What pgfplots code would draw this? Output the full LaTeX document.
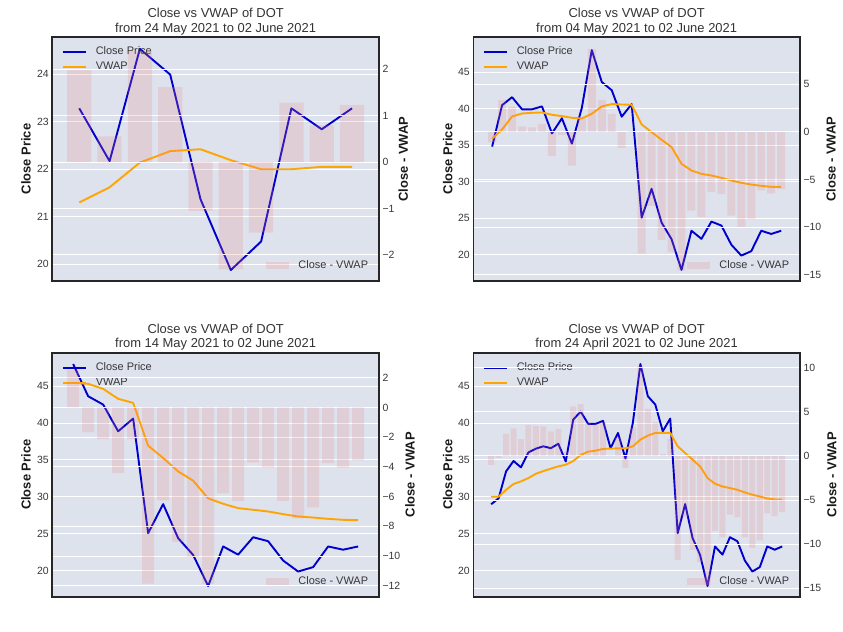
\documentclass[border=0pt]{standalone}
\usepackage{fontspec}
\setmainfont{Liberation Sans}
\usepackage{pgfplots}
\usepackage{pgfplotstable}
\pgfplotsset{compat=1.18}
\definecolor{bgc}{RGB}{221,226,237}
\definecolor{closec}{RGB}{0,0,205}
\definecolor{vwapc}{RGB}{255,165,0}
\definecolor{barc}{RGB}{240,128,128}
\definecolor{tickc}{RGB}{55,55,55}

% Panel 1: 24 May - 02 June 2021
\pgfplotstableread{
x close vwap diff
0 23.28 21.30 1.98
1 22.17 21.62 0.55
2 24.53 22.14 2.39
3 23.99 22.38 1.61
4 21.37 22.42 -1.05
5 19.88 22.19 -2.31
6 20.48 22.00 -1.52
7 23.28 22.00 1.28
8 22.84 22.05 0.79
9 23.28 22.05 1.23
}\pA

% Panel 2: 04 May - 02 June 2021
\pgfplotstableread{
x close vwap diff
0 34.80 35.86 -1.06
1 40.47 37.14 3.33
2 41.56 38.92 2.64
3 39.90 39.33 0.57
4 39.90 39.42 0.48
5 40.30 39.47 0.83
6 36.60 39.15 -2.55
7 38.67 38.97 -0.30
8 35.20 38.74 -3.54
9 40.10 38.65 1.45
10 48.00 39.29 8.71
11 43.64 40.29 3.35
12 42.51 40.62 1.89
13 38.89 40.56 -1.67
14 40.61 40.52 0.09
15 25.08 37.83 -12.75
16 29.02 36.78 -7.76
17 24.40 35.73 -11.33
18 22.13 34.73 -12.60
19 17.92 32.44 -14.52
20 23.28 31.52 -8.24
21 22.17 31.07 -8.90
22 24.53 30.84 -6.31
23 23.99 30.52 -6.53
24 21.37 30.15 -8.78
25 19.88 29.84 -9.96
26 20.48 29.60 -9.12
27 23.28 29.42 -6.14
28 22.84 29.29 -6.45
29 23.28 29.29 -6.01
}\pB

% Panel 3: 14 May - 02 June 2021
\pgfplotstableread{
x close vwap diff
0 48.00 45.46 2.54
1 43.64 45.32 -1.68
2 42.51 44.64 -2.13
3 38.89 43.29 -4.40
4 40.61 42.74 -2.13
5 25.08 36.94 -11.86
6 29.02 35.27 -6.25
7 24.40 33.45 -9.05
8 22.13 32.19 -10.06
9 17.92 29.80 -11.88
10 23.28 29.06 -5.78
11 22.17 28.47 -6.30
12 24.53 28.25 -3.72
13 23.99 28.02 -4.03
14 21.37 27.66 -6.29
15 19.88 27.34 -7.46
16 20.48 27.20 -6.72
17 23.28 27.02 -3.74
18 22.84 26.89 -4.05
19 23.28 26.84 -3.56
}\pC

% Panel 4: 24 April - 02 June 2021
\pgfplotstableread{
x close vwap diff
0 29.00 30.01 -1.01
1 29.80 30.01 -0.21
2 33.45 30.96 2.49
3 34.86 31.74 3.12
4 34.00 32.10 1.90
5 36.03 32.55 3.48
6 36.54 33.14 3.40
7 36.85 33.50 3.35
8 36.60 33.82 2.78
9 37.20 34.13 3.07
10 34.80 34.36 0.44
11 40.47 34.86 5.61
12 41.56 35.68 5.88
13 39.90 36.13 3.77
14 39.90 36.26 3.64
15 40.30 36.50 3.80
16 36.60 36.54 0.06
17 38.67 36.58 2.09
18 35.20 36.58 -1.38
19 40.10 36.85 3.25
20 48.00 37.76 10.24
21 43.64 38.30 5.34
22 42.51 38.67 3.84
23 38.89 38.67 0.22
24 40.61 38.67 1.94
25 25.08 36.85 -11.77
26 29.02 35.95 -6.93
27 24.40 35.04 -10.64
28 22.13 34.13 -12.00
29 17.92 32.55 -14.63
30 23.28 31.78 -8.50
31 22.17 31.41 -9.24
32 24.53 31.19 -6.66
33 23.99 30.96 -6.97
34 21.37 30.60 -9.23
35 19.88 30.29 -10.41
36 20.48 30.06 -9.58
37 23.28 29.78 -6.50
38 22.84 29.65 -6.81
39 23.28 29.65 -6.37
}\pD

\pgfplotsset{
  base/.style={
    scale only axis, width=326.7bp, height=244bp, anchor=south west,
    xtick=\empty, major tick length=0pt,
    ymajorgrids, major grid style={white, line width=1bp},
    axis line style={draw=black!85, line width=1.6bp},
    tick label style={font=\fontsize{10.5}{12}\selectfont, text=tickc},
    /pgf/number format/assume math mode=true,
  },
  leftax/.style={base,
    axis background/.style={fill=bgc},
    yticklabel pos=left,
    every axis y label/.style={at={(axis description cs:#1,0.5)}, rotate=90, anchor=center,
      font=\bfseries\fontsize{13}{15}\selectfont, text=black!90},
    every axis title/.style={at={(0.5,1)}, anchor=south, yshift=2bp, inner sep=0pt,
      align=center, font=\fontsize{13}{14.5}\selectfont, text=black!80},
    legend style={at={(0,1)}, anchor=north west, xshift=9.4bp, yshift=-9.75bp,
      draw=none, fill=none, inner sep=0pt, row sep=4.5bp, column sep=9bp,
      font=\fontsize{11}{13}\selectfont, text=tickc,
      nodes={inner sep=0pt, text height=8bp, text depth=2.5bp, anchor=base west}},
    legend cell align=left,
  },
  rightax/.style={base,
    yticklabel pos=right,
    every axis y label/.style={at={(axis description cs:#1,0.5)}, rotate=90, anchor=center,
      font=\bfseries\fontsize{13}{15}\selectfont, text=black!90},
    legend style={at={(1,0)}, anchor=south east, xshift=-10.7bp, yshift=10bp,
      draw=none, fill=none, inner sep=0pt, column sep=9bp,
      font=\fontsize{11}{13}\selectfont, text=tickc,
      nodes={inner sep=0pt, text height=8bp, text depth=2.5bp, anchor=base west}},
    legend cell align=left,
  },
  closeline/.style={color=closec, line width=1.9bp, line join=round,
    legend image code/.code={\draw[closec, line width=1.9bp] (0bp,3bp) -- (23bp,3bp);}},
  vwapline/.style={color=vwapc, line width=1.9bp, line join=round,
    legend image code/.code={\draw[vwapc, line width=1.9bp] (0bp,3bp) -- (23bp,3bp);}},
  barplot/.style={ybar, bar width=0.8, fill=barc, fill opacity=0.2, draw=none,
    legend image code/.code={\fill[barc, fill opacity=0.2] (0bp,-0.5bp) rectangle (23bp,6.5bp);}},
}

\begin{document}
\begin{tikzpicture}
\useasboundingbox (0,0) rectangle (843bp,632bp);

% ---------- Panel 1 (top left) ----------
\begin{axis}[leftax=-0.0805, at={(52.3bp,351bp)},
  xmin=-0.89, xmax=9.89, ymin=19.65, ymax=24.78,
  ytick={20,21,22,23,24}, yticklabels={20,21,22,23,24},
  ylabel={Close Price},
  title={Close vs VWAP of DOT\\from 24 May 2021 to 02 June 2021}]
\addplot[closeline] table[x=x, y=close]{\pA};
\addlegendentry{Close Price}
\addplot[vwapline] table[x=x, y=vwap]{\pA};
\addlegendentry{VWAP}
\end{axis}
\begin{axis}[rightax=1.0744, at={(52.3bp,351bp)},
  xmin=-0.89, xmax=9.89, ymin=-2.56, ymax=2.69,
  ytick={-2,-1,0,1,2}, yticklabels={−2,−1,0,1,2},
  ylabel={Close - VWAP}]
\addplot[barplot] table[x=x, y=diff]{\pA};
\addlegendentry{Close - VWAP}
\end{axis}

% ---------- Panel 2 (top right) ----------
\begin{axis}[leftax=-0.078, at={(473.3bp,351bp)},
  xmin=-1.89, xmax=30.89, ymin=16.4, ymax=49.8,
  ytick={20,25,30,35,40,45}, yticklabels={20,25,30,35,40,45},
  ylabel={Close Price},
  title={Close vs VWAP of DOT\\from 04 May 2021 to 02 June 2021}]
\addplot[closeline] table[x=x, y=close]{\pB};
\addlegendentry{Close Price}
\addplot[vwapline] table[x=x, y=vwap]{\pB};
\addlegendentry{VWAP}
\end{axis}
\begin{axis}[rightax=1.095, at={(473.3bp,351bp)},
  xmin=-1.89, xmax=30.89, ymin=-15.63, ymax=9.95,
  ytick={-15,-10,-5,0,5}, yticklabels={−15,−10,−5,0,5},
  ylabel={Close - VWAP}]
\addplot[barplot] table[x=x, y=diff]{\pB};
\addlegendentry{Close - VWAP}
\end{axis}

% ---------- Panel 3 (bottom left) ----------
\begin{axis}[leftax=-0.0805, at={(52.3bp,35.3bp)},
  xmin=-1.39, xmax=20.39, ymin=16.47, ymax=49.54,
  ytick={20,25,30,35,40,45}, yticklabels={20,25,30,35,40,45},
  ylabel={Close Price},
  title={Close vs VWAP of DOT\\from 14 May 2021 to 02 June 2021}]
\addplot[closeline] table[x=x, y=close]{\pC};
\addlegendentry{Close Price}
\addplot[vwapline] table[x=x, y=vwap]{\pC};
\addlegendentry{VWAP}
\end{axis}
\begin{axis}[rightax=1.095, at={(52.3bp,35.3bp)},
  xmin=-1.39, xmax=20.39, ymin=-12.74, ymax=3.69,
  ytick={-12,-10,-8,-6,-4,-2,0,2}, yticklabels={−12,−10,−8,−6,−4,−2,0,2},
  ylabel={Close - VWAP}]
\addplot[barplot] table[x=x, y=diff]{\pC};
\addlegendentry{Close - VWAP}
\end{axis}

% ---------- Panel 4 (bottom right) ----------
\begin{axis}[leftax=-0.078, at={(473.3bp,35.3bp)},
  xmin=-2.39, xmax=41.39, ymin=16.47, ymax=49.54,
  ytick={20,25,30,35,40,45}, yticklabels={20,25,30,35,40,45},
  ylabel={Close Price},
  title={Close vs VWAP of DOT\\from 24 April 2021 to 02 June 2021}]
\addplot[closeline] table[x=x, y=close]{\pD};
\addlegendentry{Close Price}
\addplot[vwapline] table[x=x, y=vwap]{\pD};
\addlegendentry{VWAP}
\end{axis}
\begin{axis}[rightax=1.097, at={(473.3bp,35.3bp)},
  xmin=-2.39, xmax=41.39, ymin=-15.95, ymax=11.7,
  ytick={-15,-10,-5,0,5,10}, yticklabels={−15,−10,−5,0,5,10},
  ylabel={Close - VWAP}]
\addplot[barplot] table[x=x, y=diff]{\pD};
\addlegendentry{Close - VWAP}
\end{axis}
\end{tikzpicture}
\end{document}
